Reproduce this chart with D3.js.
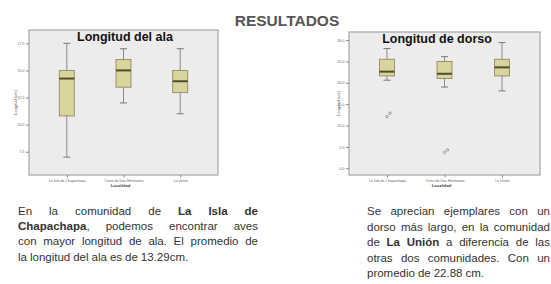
<!DOCTYPE html>
<html>
<head>
<meta charset="utf-8">
<script src="https://cdn.jsdelivr.net/npm/d3@7"></script>
<style>
  body { margin: 0; background: #fff; }
  svg { display: block; font-family: Arial, "Liberation Sans", sans-serif; }
</style>
</head>
<body>
<svg id="chart" width="551" height="284"></svg>
<script>
/************************** DATA **************************/
var categories = ["La Isla de Chapachapa", "Cerro de Dos Hermanos", "La Unión"];

// Longitud del ala (cm)
var alaLow    = [7.0, 12.0, 11.0];
var alaQ1     = [10.8, 13.45, 12.95];
var alaMedian = [14.25, 15.0, 14.0];
var alaQ3     = [15.0, 16.0, 15.0];
var alaHigh   = [17.5, 17.0, 17.0];
var alaTicks  = [7.5, 10.0, 12.5, 15.0, 17.5];

// Longitud de dorso (cm)
var dorsoLow      = [20.6, 19.0, 18.1];
var dorsoQ1       = [21.6, 21.0, 21.6];
var dorsoMedian   = [22.6, 22.1, 23.6];
var dorsoQ3       = [25.5, 25.0, 25.5];
var dorsoHigh     = [28.0, 26.1, 29.4];
var dorsoOutliers = [[12.1, 12.9], [3.7, 4.3], []];
var dorsoTicks    = [0, 5, 10, 15, 20, 25, 30];

var leftText = [
  "En la comunidad de **La Isla de**",
  "**Chapachapa**, podemos encontrar aves",
  "con mayor longitud de ala. El promedio de",
  "la longitud del ala es de 13.29cm."
];
var rightText = [
  "Se aprecian ejemplares con un",
  "dorso más largo, en la comunidad",
  "de **La Unión** a diferencia de las",
  "otras dos comunidades. Con un",
  "promedio de 22.88 cm."
];

/************************** DRAWING **************************/
var svg = d3.select("#chart");
svg.append("rect").attr("width", 551).attr("height", 284).attr("fill", "#fff");

svg.append("text")
  .attr("x", 287).attr("y", 26)
  .attr("text-anchor", "middle")
  .attr("font-size", 15.5).attr("font-weight", "bold")
  .attr("fill", "#555")
  .text("RESULTADOS");

var boxFill = "#d9d49c", boxStroke = "#8f8c62", medColor = "#4f4d2c", whiskColor = "#8a8a8a";

function boxPlot(cfg) {
  var g = svg.append("g");
  var x = d3.scalePoint().domain(categories).range([cfg.left, cfg.right]).padding(cfg.pad);
  var y = d3.scaleLinear().domain(cfg.domain).range([cfg.bottom, cfg.top]);
  var bw = 15, cap = 7;

  // frame
  g.append("rect")
    .attr("x", cfg.left).attr("y", cfg.top)
    .attr("width", cfg.right - cfg.left).attr("height", cfg.bottom - cfg.top)
    .attr("fill", "#ececec").attr("stroke", "#a5a5a5").attr("stroke-width", 1.2);

  // y axis
  var ya = g.append("g")
    .attr("transform", "translate(" + cfg.left + ",0)")
    .call(d3.axisLeft(y).tickValues(cfg.ticks).tickFormat(d3.format(".1f")).tickSize(3).tickPadding(1.5));
  ya.select(".domain").remove();
  ya.selectAll("line").attr("stroke", "#888");
  ya.selectAll("text").attr("font-size", 3.6).attr("fill", "#666").attr("font-family", "Arial, 'Liberation Sans', sans-serif");

  g.append("text")
    .attr("transform", "translate(" + cfg.ytitleX + "," + ((cfg.top + cfg.bottom) / 2) + ") rotate(-90)")
    .attr("text-anchor", "middle")
    .attr("font-size", 4).attr("fill", "#555")
    .text("Longitud (cm)");

  // x axis
  var xa = g.append("g")
    .attr("transform", "translate(0," + cfg.bottom + ")")
    .call(d3.axisBottom(x).tickSize(2.5).tickPadding(2));
  xa.select(".domain").remove();
  xa.selectAll("line").attr("stroke", "#888");
  xa.selectAll("text").attr("font-size", 3.6).attr("fill", "#666").attr("font-family", "Arial, 'Liberation Sans', sans-serif");

  g.append("text")
    .attr("x", (cfg.left + cfg.right) / 2 - 3).attr("y", cfg.bottom + 11.5)
    .attr("text-anchor", "middle")
    .attr("font-size", 4.2).attr("font-weight", "bold").attr("fill", "#444")
    .text("Localidad");

  categories.forEach(function (c, i) {
    var cx = x(c);
    // whiskers
    g.append("line").attr("x1", cx).attr("x2", cx)
      .attr("y1", y(cfg.high[i])).attr("y2", y(cfg.q3[i]))
      .attr("stroke", whiskColor).attr("stroke-width", 1);
    g.append("line").attr("x1", cx).attr("x2", cx)
      .attr("y1", y(cfg.q1[i])).attr("y2", y(cfg.low[i]))
      .attr("stroke", whiskColor).attr("stroke-width", 1);
    [cfg.high[i], cfg.low[i]].forEach(function (v) {
      g.append("line").attr("x1", cx - cap / 2).attr("x2", cx + cap / 2)
        .attr("y1", y(v)).attr("y2", y(v))
        .attr("stroke", "#777").attr("stroke-width", 1);
    });
    // box
    g.append("rect")
      .attr("x", cx - bw / 2).attr("y", y(cfg.q3[i]))
      .attr("width", bw).attr("height", y(cfg.q1[i]) - y(cfg.q3[i]))
      .attr("fill", boxFill).attr("stroke", boxStroke).attr("stroke-width", 0.9);
    g.append("line")
      .attr("x1", cx - bw / 2).attr("x2", cx + bw / 2)
      .attr("y1", y(cfg.median[i])).attr("y2", y(cfg.median[i]))
      .attr("stroke", medColor).attr("stroke-width", 2);
    // outliers
    (cfg.outliers ? cfg.outliers[i] : []).forEach(function (v, k) {
      g.append("circle")
        .attr("cx", cx + k * 3).attr("cy", y(v)).attr("r", 1.2)
        .attr("fill", "none").attr("stroke", "#666").attr("stroke-width", 0.6);
    });
  });

  g.append("text")
    .attr("x", cfg.titleX).attr("y", cfg.top + 11)
    .attr("text-anchor", "middle")
    .attr("font-size", 12.5).attr("font-weight", "bold").attr("fill", "#111")
    .text(cfg.title);
}

boxPlot({
  title: "Longitud del ala", titleX: 125,
  left: 29, right: 218, top: 30, bottom: 175, pad: 0.667,
  domain: [5.35, 18.73], ticks: alaTicks, ytitleX: 17,
  low: alaLow, q1: alaQ1, median: alaMedian, q3: alaQ3, high: alaHigh
});

boxPlot({
  title: "Longitud de dorso", titleX: 437,
  left: 349, right: 540, top: 32, bottom: 175, pad: 0.66,
  domain: [-1.57, 31.87], ticks: dorsoTicks, ytitleX: 339.5,
  low: dorsoLow, q1: dorsoQ1, median: dorsoMedian, q3: dorsoQ3, high: dorsoHigh,
  outliers: dorsoOutliers
});

/************************** PARAGRAPHS **************************/
function parseLine(line) {
  var bold = false;
  return line.split(" ").map(function (tok) {
    var segs = [];
    tok.split("**").forEach(function (s, k) {
      if (k > 0) bold = !bold;
      if (s.length) segs.push({ t: s, b: bold });
    });
    return segs;
  });
}

function paragraph(lines, x0, width, y0, lh, fs) {
  var g = svg.append("g").attr("font-size", fs).attr("fill", "#333");
  lines.forEach(function (line, i) {
    var words = parseLine(line);
    var nodes = words.map(function (segs) {
      var t = g.append("text").attr("y", y0 + i * lh);
      segs.forEach(function (s) {
        t.append("tspan").attr("font-weight", s.b ? "bold" : "normal").text(s.t);
      });
      return t;
    });
    var widths = nodes.map(function (n) { return n.node().getComputedTextLength(); });
    var total = d3.sum(widths);
    var last = i === lines.length - 1;
    var gap = last ? fs * 0.26 : (width - total) / (words.length - 1);
    var x = x0;
    nodes.forEach(function (n, k) {
      n.attr("x", x);
      x += widths[k] + gap;
    });
  });
}

paragraph(leftText, 18, 240, 215, 15.2, 11.5);
paragraph(rightText, 367, 183, 215, 15.5, 11.5);
</script>
</body>
</html>
